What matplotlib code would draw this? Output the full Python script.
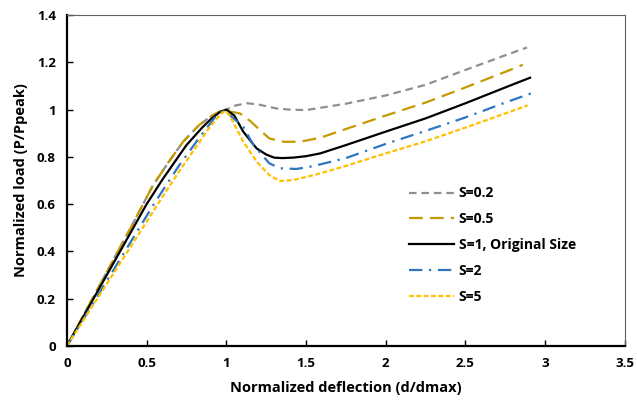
import matplotlib
matplotlib.use('Agg')
import matplotlib.pyplot as plt
from matplotlib.ticker import MultipleLocator, FuncFormatter

plt.rcParams['font.family'] = ['Open Sans', 'DejaVu Sans']
plt.rcParams['font.weight'] = 'bold'

# data (normalized deflection, normalized load)
x_s02 = [0, 0.2, 0.4, 0.54, 0.65, 0.73, 0.83, 0.9, 0.96, 1.0, 1.06, 1.13, 1.2, 1.315, 1.4, 1.5, 1.75, 2.0, 2.25, 2.5, 2.75, 2.886]
y_s02 = [0, 0.25, 0.5, 0.68, 0.79, 0.865, 0.935, 0.97, 0.993, 1.0, 1.018, 1.027, 1.022, 1.005, 1.0, 0.998, 1.025, 1.06, 1.105, 1.168, 1.23, 1.263]

x_s05 = [0, 0.2, 0.4, 0.54, 0.65, 0.73, 0.83, 0.9, 0.96, 1.0, 1.085, 1.15, 1.21, 1.27, 1.36, 1.46, 1.59, 1.75, 2.0, 2.25, 2.5, 2.75, 2.86]
y_s05 = [0, 0.25, 0.5, 0.68, 0.79, 0.865, 0.935, 0.97, 0.993, 0.995, 0.984, 0.952, 0.914, 0.878, 0.864, 0.864, 0.881, 0.918, 0.975, 1.03, 1.094, 1.16, 1.19]

x_s1 = [0, 0.2, 0.4, 0.5, 0.6, 0.75, 0.85, 0.9, 0.96, 1.0, 1.05, 1.106, 1.19, 1.25, 1.3, 1.35, 1.42, 1.5, 1.59, 1.75, 2.0, 2.25, 2.5, 2.75, 2.905]
y_s1 = [0, 0.24, 0.48, 0.6, 0.705, 0.85, 0.925, 0.958, 0.99, 1.0, 0.975, 0.907, 0.836, 0.81, 0.797, 0.795, 0.797, 0.803, 0.815, 0.85, 0.907, 0.963, 1.027, 1.094, 1.135]

x_s2 = [0, 0.2, 0.4, 0.55, 0.7, 0.813, 0.88, 0.94, 0.98, 1.0, 1.05, 1.106, 1.17, 1.27, 1.336, 1.44, 1.545, 1.75, 2.0, 2.25, 2.5, 2.75, 2.925]
y_s2 = [0, 0.22, 0.44, 0.605, 0.76, 0.865, 0.925, 0.977, 0.995, 0.99, 0.96, 0.928, 0.85, 0.773, 0.752, 0.749, 0.761, 0.795, 0.855, 0.91, 0.967, 1.03, 1.072]

x_s5 = [0, 0.2, 0.4, 0.57, 0.7, 0.834, 0.9, 0.96, 0.99, 1.02, 1.106, 1.19, 1.27, 1.336, 1.42, 1.566, 1.75, 2.0, 2.25, 2.5, 2.75, 2.89]
y_s5 = [0, 0.21, 0.42, 0.6, 0.735, 0.865, 0.93, 0.977, 0.995, 0.977, 0.865, 0.78, 0.723, 0.698, 0.702, 0.726, 0.762, 0.815, 0.866, 0.924, 0.984, 1.018]

labels = ['S=0.2', 'S=0.5', 'S=1, Original Size', 'S=2', 'S=5']

fig = plt.figure(figsize=(6.37, 4.08), dpi=100)
ax = fig.add_axes([0.105, 0.152, 0.876, 0.811])

lw = 1.6
ax.plot(x_s02, y_s02, color='#8f8f8f', lw=lw, dashes=(3.4, 2.2), label=labels[0])
ax.plot(x_s05, y_s05, color='#c49a00', lw=lw, dashes=(6.2, 3.2), label=labels[1])
ax.plot(x_s1, y_s1, color='black', lw=lw, label=labels[2])
ax.plot(x_s2, y_s2, color='#2e75c0', lw=lw, dashes=(6, 3, 1, 3), label=labels[3])
ax.plot(x_s5, y_s5, color='#ffc000', lw=lw, dashes=(2.2, 1.1), label=labels[4])

ax.set_xlim(0, 3.5)
ax.set_ylim(0, 1.4)
ax.xaxis.set_major_locator(MultipleLocator(0.5))
ax.yaxis.set_major_locator(MultipleLocator(0.2))
fmt = FuncFormatter(lambda v, p: '{:g}'.format(round(v, 2)))
ax.xaxis.set_major_formatter(fmt)
ax.yaxis.set_major_formatter(fmt)
ax.tick_params(direction='in', length=4, width=1, labelsize=9.5, pad=8)
for lab in ax.get_xticklabels() + ax.get_yticklabels():
    lab.set_fontweight('bold')

for s in ['left', 'bottom']:
    ax.spines[s].set_linewidth(1.6)
    ax.spines[s].set_color('black')
for s in ['top', 'right']:
    ax.spines[s].set_linewidth(0.8)
    ax.spines[s].set_color('#606060')

ax.set_xlabel('Normalized deflection (d/dmax)', fontsize=10.5, fontweight='bold', labelpad=8)
ax.set_ylabel('Normalized load (P/Ppeak)', fontsize=10.5, fontweight='bold', labelpad=6)

leg = ax.legend(loc='upper left', bbox_to_anchor=(0.59, 0.52), frameon=False,
                fontsize=10, handlelength=3.3, handletextpad=0.3, labelspacing=0.85)
for t in leg.get_texts():
    t.set_fontweight('bold')

fig.savefig('out.png', dpi=100)
